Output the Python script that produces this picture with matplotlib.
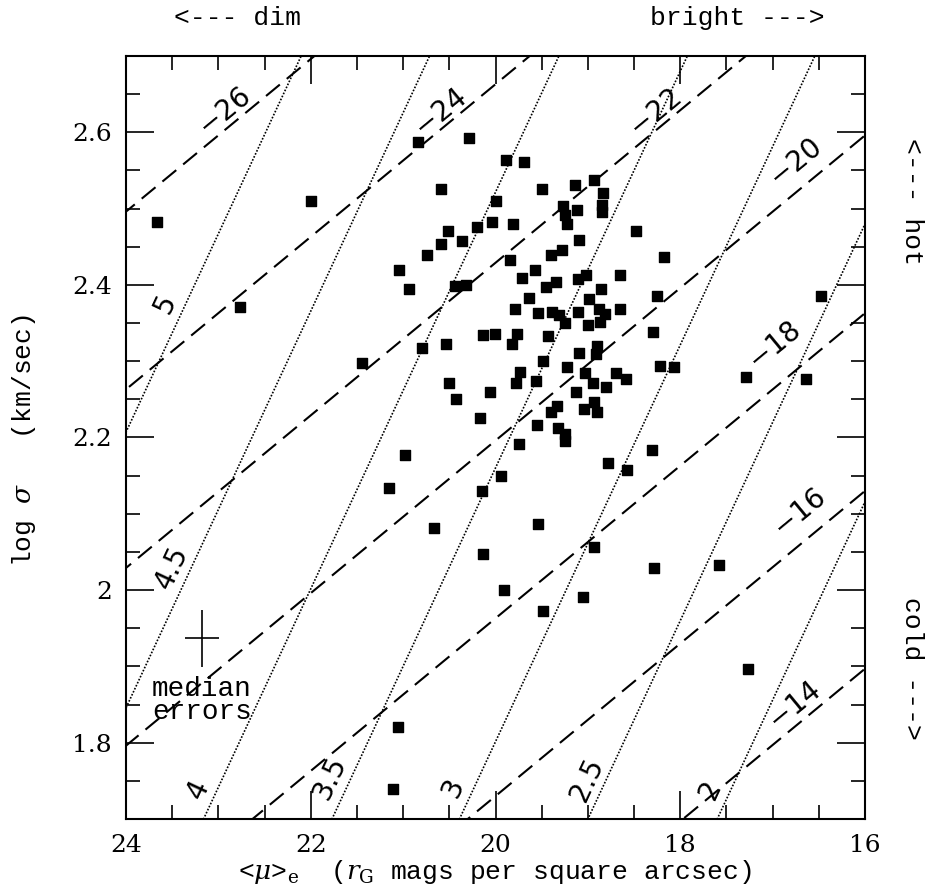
import numpy as np
import matplotlib.pyplot as plt
from matplotlib.ticker import MultipleLocator

plt.rcParams['font.family'] = 'DejaVu Serif'
plt.rcParams['mathtext.fontset'] = 'dejavuserif'

# galaxies: mean surface brightness <mu>_e and log sigma
mu = [23.661, 21.998, 22.766, 21.045, 21.449, 20.843, 20.285, 19.890, 19.690, 20.593,
      19.496, 19.139, 18.929, 18.838, 19.994, 19.267, 19.249, 19.224, 19.119, 18.852,
      18.852, 18.478, 18.180, 20.512, 20.198, 20.042, 19.808, 20.591, 20.361, 19.097,
      20.746, 19.844, 19.395, 19.281, 19.576, 19.709, 19.348, 19.102, 19.016, 18.648,
      20.937, 20.442, 20.324, 19.455, 18.856, 18.250, 19.639, 18.989, 19.790, 19.544,
      19.384, 19.316, 19.252, 19.102, 18.881, 18.820, 18.874, 19.002, 18.648, 18.291,
      20.133, 20.001, 19.763, 19.433, 16.482, 20.793, 20.537, 19.819, 19.490, 19.736,
      20.508, 19.782, 19.563, 20.061, 20.429, 20.169, 19.400, 19.552, 19.750, 20.977,
      19.945, 21.157, 20.150, 20.670, 19.541, 20.136, 19.094, 18.906, 18.917, 19.227,
      19.032, 18.949, 19.127, 18.802, 18.697, 18.586, 18.221, 18.066, 19.332, 19.047,
      18.935, 18.903, 19.321, 19.249, 19.249, 18.304, 18.780, 18.578, 18.932, 19.906,
      19.484, 19.057, 18.286, 17.579, 17.265, 21.056, 21.107, 17.290, 16.641]
logsig = [2.482, 2.510, 2.371, 2.419, 2.297, 2.587, 2.593, 2.564, 2.561, 2.526,
          2.526, 2.531, 2.537, 2.520, 2.510, 2.504, 2.491, 2.480, 2.498, 2.505,
          2.496, 2.471, 2.436, 2.471, 2.476, 2.483, 2.480, 2.454, 2.458, 2.459,
          2.439, 2.432, 2.439, 2.446, 2.419, 2.409, 2.404, 2.408, 2.413, 2.413,
          2.395, 2.399, 2.400, 2.397, 2.394, 2.386, 2.383, 2.382, 2.369, 2.363,
          2.365, 2.360, 2.350, 2.364, 2.369, 2.362, 2.352, 2.348, 2.369, 2.338,
          2.334, 2.336, 2.336, 2.333, 2.386, 2.317, 2.322, 2.322, 2.300, 2.286,
          2.271, 2.271, 2.274, 2.260, 2.250, 2.225, 2.234, 2.217, 2.191, 2.177,
          2.149, 2.134, 2.130, 2.082, 2.086, 2.047, 2.311, 2.320, 2.310, 2.293,
          2.284, 2.272, 2.260, 2.266, 2.284, 2.276, 2.294, 2.292, 2.241, 2.237,
          2.246, 2.233, 2.213, 2.204, 2.196, 2.184, 2.167, 2.158, 2.056, 2.000,
          1.973, 1.991, 2.029, 2.033, 1.897, 1.820, 1.739, 2.279, 2.276]

# lines of constant absolute magnitude (dashed): log sigma at mu = 24
mag_labels = ['\u221226', '\u221224', '\u221222', '\u221220', '\u221218', '\u221216', '\u221214']
mag_sig24 = [2.496, 2.263, 2.029, 1.796, 1.563, 1.330, 1.097]
mag_slope = -0.10

# lines of constant log radius (dotted): mu where log sigma = 1.7
rad_labels = ['5', '4.5', '4', '3.5', '3', '2.5', '2']
rad_mu17 = [25.95, 24.56, 23.16, 21.77, 20.39, 19.00, 17.60]
rad_slope = -0.26

# median error bar
err_mu, err_sig = 23.18, 1.937
err_dmu, err_dsig = 0.184, 0.0375

# where the line labels sit
mag_lab_x = [22.93, 20.60, 18.27, 16.75, 16.98, 16.71, 16.76]
mag_lab_y = [2.629, 2.628, 2.628, 2.562, 2.322, 2.103, 1.851]
rad_lab_x = [23.57, 23.50, 23.22, 21.79, 20.46, 19.01, 17.67]
rad_lab_y = [2.375, 2.030, 1.738, 1.754, 1.741, 1.751, 1.738]

mono = 'Liberation Mono'

fig = plt.figure(figsize=(9.25, 8.93), dpi=100)
ax = fig.add_axes([0.1362, 0.0829, 0.799, 0.8544])

xx = np.array([14.0, 26.0])
for c in mag_sig24:
    ax.plot(xx, c + mag_slope * (xx - 24), color='k', lw=1.5, ls=(0, (8.6, 4.3)))
for m in rad_mu17:
    ax.plot(xx, 1.7 + rad_slope * (xx - m), color='k', lw=1.2, ls=(0, (1, 1)))

ax.scatter(mu, logsig, marker='s', s=55, color='k', zorder=5)

ax.errorbar(err_mu, err_sig, xerr=err_dmu, yerr=err_dsig, fmt='none',
            ecolor='k', elinewidth=1.2, capsize=0)
ax.text(err_mu, 1.855, 'median\nerrors', ha='center', va='center',
        fontsize=20, linespacing=0.85, family=mono)

ax.set_xlim(24, 16)
ax.set_ylim(1.7, 2.7)

# rotation of labels follows the lines on screen
fig.canvas.draw()
ang_mag = ax.transData.transform_angles(np.array([np.degrees(np.arctan(mag_slope))]),
                                        np.array([[20, 2.2]]))[0]
ang_rad = ax.transData.transform_angles(np.array([np.degrees(np.arctan(rad_slope))]),
                                        np.array([[20, 2.2]]))[0]
ang_mag = (ang_mag + 90) % 180 - 90
ang_rad = (ang_rad + 90) % 180 - 90
for lab, x, y in zip(mag_labels, mag_lab_x, mag_lab_y):
    ax.text(x, y, lab, rotation=ang_mag, ha='center', va='center', fontsize=20,
            rotation_mode='anchor', family='DejaVu Sans')
for lab, x, y in zip(rad_labels, rad_lab_x, rad_lab_y):
    ax.text(x, y, lab, rotation=ang_rad, ha='center', va='center', fontsize=20,
            rotation_mode='anchor', family='DejaVu Sans')

ax.xaxis.set_major_locator(MultipleLocator(2))
ax.xaxis.set_minor_locator(MultipleLocator(0.5))
ax.yaxis.set_major_locator(MultipleLocator(0.2))
ax.yaxis.set_minor_locator(MultipleLocator(0.05))
ax.set_xticks([24, 22, 20, 18, 16])
ax.set_xticklabels(['24', '22', '20', '18', '16'])
ax.set_yticks([1.8, 2.0, 2.2, 2.4, 2.6])
ax.set_yticklabels(['1.8', '2', '2.2', '2.4', '2.6'])
ax.tick_params(which='both', direction='in', top=True, right=True, width=1.2,
               labelsize=18)
ax.tick_params(which='major', length=20, pad=11)
ax.tick_params(which='minor', length=10)
ax.tick_params(axis='y', pad=10)
for s in ax.spines.values():
    s.set_linewidth(1.5)

fig.text(495 / 925, 1 - 872 / 893,
         r'<$\mu$>$_{\rm e}$  ($r_{\rm G}$ mags per square arcsec)',
         ha='center', va='center', fontsize=19, family=mono)
fig.text(24 / 925, 1 - 440 / 893, r'log $\sigma$   (km/sec)', ha='center',
         va='center', fontsize=19, family=mono, rotation=90)

fig.text(237 / 925, 1 - 18 / 893, '<--- dim', ha='center', va='center',
         fontsize=19, family=mono)
fig.text(737 / 925, 1 - 18 / 893, 'bright --->', ha='center', va='center',
         fontsize=19, family=mono)
fig.text(912 / 925, 1 - 201 / 893, '<--- hot', ha='center', va='center',
         fontsize=19, family=mono, rotation=-90)
fig.text(912 / 925, 1 - 668 / 893, 'cold --->', ha='center', va='center',
         fontsize=19, family=mono, rotation=-90)

fig.savefig('out.png', dpi=100)
